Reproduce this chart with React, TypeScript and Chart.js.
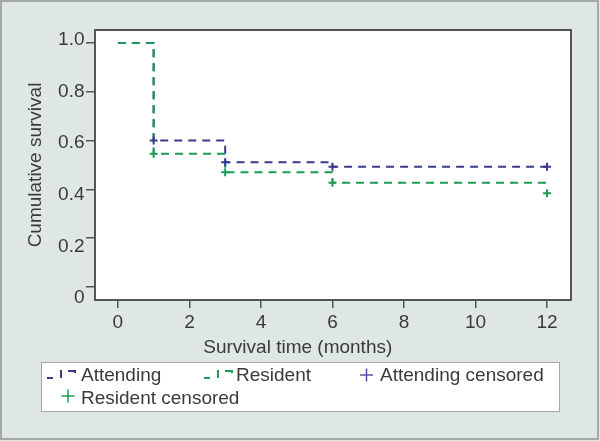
import { useEffect, useRef } from "react";
import { Chart, registerables } from "chart.js";

Chart.register(...registerables);

// ---- Data ----
const timePoints = [0, 1, 3, 6, 12];
const attendingSurvival = [1.0, 0.6, 0.511, 0.493, 0.493];
const residentSurvival = [1.0, 0.546, 0.47, 0.427, 0.427];
const attendingCensorTimes = [1, 3, 6, 12];
const attendingCensorValues = [0.6, 0.511, 0.493, 0.493];
const residentCensorTimes = [1, 3, 6, 12];
const residentCensorValues = [0.546, 0.47, 0.427, 0.384];
const xTicks = [0, 2, 4, 6, 8, 10, 12];
const yTicks = [0, 0.2, 0.4, 0.6, 0.8, 1.0];
const seriesLabels = ["Attending", "Resident", "Attending censored", "Resident censored"];

// ---- Style ----
const FONT = "'Liberation Sans', Arial, Helvetica, sans-serif";
const TEXT = "#3a3a3a";
const BLUE = "#3b3a8c";
const GREEN = "#1e9a57";
const AXIS = "#555555";

const toPts = (xs: number[], ys: number[]) => xs.map((x, i) => ({ x, y: ys[i] }));

const framePlugin = {
  id: "frame",
  beforeDraw(chart: any) {
    const { ctx, chartArea: ca, width, height } = chart;
    ctx.save();
    ctx.fillStyle = "#dfe7e4";
    ctx.fillRect(0, 0, width, height);
    ctx.strokeStyle = "#a3a8a6";
    ctx.lineWidth = 2;
    ctx.strokeRect(1, 1, width - 3, height - 3);
    ctx.fillStyle = "#ffffff";
    ctx.fillRect(ca.left, ca.top, ca.right - ca.left, ca.bottom - ca.top);
    ctx.restore();
  },
  afterDatasetsDraw(chart: any) {
    const { ctx, chartArea: ca } = chart;
    ctx.save();
    ctx.strokeStyle = AXIS;
    ctx.lineWidth = 2;
    ctx.strokeRect(ca.left, ca.top, ca.right - ca.left, ca.bottom - ca.top);
    ctx.restore();
  },
};

const legendPlugin = {
  id: "boxLegend",
  afterDraw(chart: any) {
    const { ctx } = chart;
    const ds = chart.data.datasets;
    ctx.save();
    // box
    ctx.fillStyle = "#ffffff";
    ctx.fillRect(41, 362, 518, 49);
    ctx.strokeStyle = "#a8a8a8";
    ctx.lineWidth = 1;
    ctx.strokeRect(41.5, 362.5, 518, 49);

    ctx.font = `19px ${FONT}`;
    ctx.textBaseline = "alphabetic";
    ctx.textAlign = "left";

    const stepIcon = (x0: number, color: string) => {
      ctx.save();
      ctx.strokeStyle = color;
      ctx.lineWidth = 2;
      ctx.setLineDash([6, 8, 8, 6, 9, 40]);
      ctx.beginPath();
      ctx.moveTo(x0, 378);
      ctx.lineTo(x0 + 14, 378);
      ctx.lineTo(x0 + 14, 371);
      ctx.lineTo(x0 + 28, 371);
      ctx.lineTo(x0 + 28, 378);
      ctx.stroke();
      ctx.restore();
    };
    const cross = (cx: number, cy: number, color: string) => {
      ctx.save();
      ctx.strokeStyle = color;
      ctx.lineWidth = 1.5;
      ctx.beginPath();
      ctx.moveTo(cx - 6.5, cy);
      ctx.lineTo(cx + 6.5, cy);
      ctx.moveTo(cx, cy - 6.5);
      ctx.lineTo(cx, cy + 6.5);
      ctx.stroke();
      ctx.restore();
    };

    stepIcon(47, ds[0].borderColor);
    ctx.fillStyle = TEXT;
    ctx.fillText(ds[0].label, 81, 381);

    stepIcon(204, ds[1].borderColor);
    ctx.fillStyle = TEXT;
    ctx.fillText(ds[1].label, 236, 381);

    cross(366.5, 375, "#5a52a0");
    ctx.fillStyle = TEXT;
    ctx.fillText(ds[2].label, 380, 381);

    cross(68, 396, GREEN);
    ctx.fillStyle = TEXT;
    ctx.fillText(ds[3].label, 81, 404);
    ctx.restore();
  },
};

const tickFont = { family: FONT, size: 19 };

export default function App() {
  const ref = useRef<HTMLCanvasElement>(null);

  useEffect(() => {
    document.body.style.margin = "0";
    const canvas = ref.current;
    if (!canvas) return;
    const chart = new Chart(canvas, {
      type: "line",
      data: {
        datasets: [
          {
            label: seriesLabels[0],
            data: toPts(timePoints, attendingSurvival),
            borderColor: BLUE,
            borderWidth: 2,
            borderDash: [8, 6],
            stepped: true,
            pointRadius: 0,
            fill: false,
            order: 3,
          },
          {
            label: seriesLabels[1],
            data: toPts(timePoints, residentSurvival),
            borderColor: GREEN,
            borderWidth: 2,
            borderDash: [8, 6],
            stepped: true,
            pointRadius: 0,
            fill: false,
            order: 2,
          },
          {
            label: seriesLabels[2],
            data: toPts(attendingCensorTimes, attendingCensorValues),
            borderColor: BLUE,
            backgroundColor: BLUE,
            showLine: false,
            pointStyle: "cross",
            pointRadius: 4,
            pointBorderWidth: 2,
            order: 1,
          },
          {
            label: seriesLabels[3],
            data: toPts(residentCensorTimes, residentCensorValues),
            borderColor: GREEN,
            backgroundColor: GREEN,
            showLine: false,
            pointStyle: "cross",
            pointRadius: 4,
            pointBorderWidth: 2,
            order: 0,
          },
        ] as any,
      },
      options: {
        responsive: false,
        maintainAspectRatio: false,
        animation: false,
        devicePixelRatio: 1,
        layout: { padding: { left: 24.6, top: 30, right: 29, bottom: 82.2 } },
        plugins: {
          legend: { display: false },
          tooltip: { enabled: false },
          title: {
            display: true,
            position: "bottom",
            text: "Survival time (months)",
            color: TEXT,
            font: { family: FONT, size: 19, weight: "normal" },
            padding: { top: 0, bottom: 0 },
          },
        },
        scales: {
          x: {
            type: "linear",
            min: -0.64,
            max: 12.67,
            afterBuildTicks: (s: any) => {
              s.ticks = xTicks.map((v) => ({ value: v }));
            },
            afterFit: (s: any) => {
              s.height = 36;
            },
            ticks: {
              font: tickFont,
              color: TEXT,
              padding: 3,
              maxRotation: 0,
              callback: (v: any) => String(v),
            },
            grid: {
              drawOnChartArea: false,
              drawTicks: true,
              tickLength: 8,
              color: AXIS,
              lineWidth: 1.5,
            },
            border: { display: false },
          },
          y: {
            type: "linear",
            position: "left",
            weight: 0,
            min: -0.053,
            max: 1.053,
            afterBuildTicks: (s: any) => {
              s.ticks = yTicks.map((v) => ({ value: v }));
            },
            afterFit: (s: any) => {
              s.width = 9;
            },
            ticks: { display: false },
            grid: {
              drawOnChartArea: false,
              drawTicks: true,
              tickLength: 9,
              color: AXIS,
              lineWidth: 1.5,
            },
            border: { display: false },
          },
          y2: {
            type: "linear",
            position: "left",
            weight: 1,
            min: -0.00775,
            max: 1.0388,
            afterBuildTicks: (s: any) => {
              s.ticks = yTicks.map((v) => ({ value: v }));
            },
            afterFit: (s: any) => {
              s.width = 61.4;
            },
            ticks: {
              font: tickFont,
              color: TEXT,
              padding: 1.5,
              callback: (v: any) => (Number(v) === 0 ? "0" : Number(v).toFixed(1)),
            },
            grid: { display: false, drawTicks: false },
            border: { display: false },
            title: {
              display: true,
              text: "Cumulative survival",
              color: TEXT,
              font: { family: FONT, size: 19 },
              padding: 0,
            },
          },
        },
      } as any,
      plugins: [framePlugin, legendPlugin],
    });
    return () => chart.destroy();
  }, []);

  return (
    <div style={{ position: "absolute", left: 0, top: 0, width: 600, height: 441 }}>
      <canvas ref={ref} width={600} height={441} style={{ display: "block", width: 600, height: 441 }} />
    </div>
  );
}
